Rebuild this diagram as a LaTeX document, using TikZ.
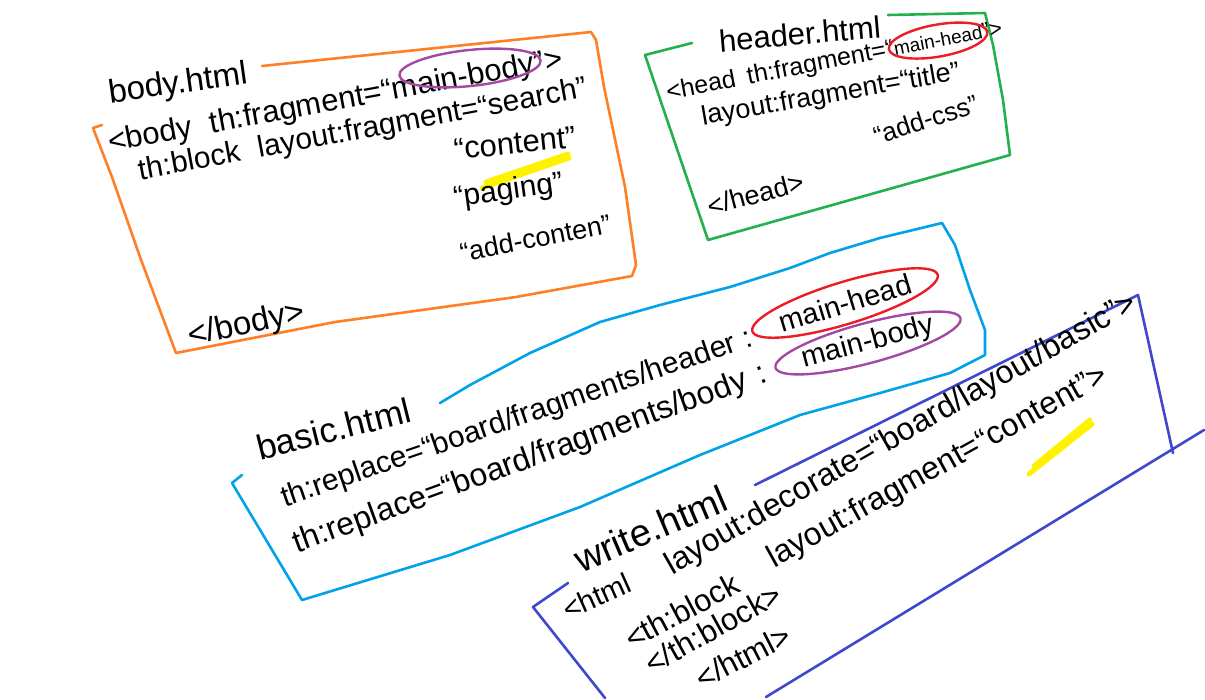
\documentclass[tikz,border=0pt]{standalone}
\usepackage{fontspec}
\setmainfont{Liberation Sans}
\usetikzlibrary{shapes.geometric}
\definecolor{porange}{HTML}{FF7F27}
\definecolor{pgreen}{HTML}{22B14C}
\definecolor{pblue}{HTML}{00A2E8}
\definecolor{pred}{HTML}{ED1C24}
\definecolor{ppurple}{HTML}{A349A4}
\definecolor{pindigo}{HTML}{3F48CC}
\definecolor{pyellow}{HTML}{FFF200}
\begin{document}
\begin{tikzpicture}[x=1pt,y=-1pt,line cap=round,line join=round,
  box/.style={line width=2.6pt},
  lbl/.style={anchor=base west, inner sep=0pt, outer sep=0pt, font=\fontsize{#1}{#1}\selectfont},
  lbl/.default=30,
  ring/.style={ellipse, line width=2.4pt, inner sep=0pt, font=\fontsize{#1}{#1}\selectfont},
  ring/.default=28,
  hl/.style={draw=pyellow, line width=5pt}]
\fill[white] (0,0) rectangle (1205,699);
\useasboundingbox (0,0) rectangle (1205,699);

% ---------- body.html (orange) ----------
\draw[hl] (482,188) -- (569,158);
\draw[hl] (486,182) -- (568,154);
\draw[box, draw=porange] (262,66) -- (591,32) -- (596,40) -- (604,87) -- (625,187) -- (636,265) -- (632,276) -- (516,297) -- (335,322) -- (176,353) -- (140,257) -- (112,177) -- (93,128) -- (102,125);
\node[lbl=33, rotate=8] (bodyt) at (110,103) {body.html};
\node[lbl=31, rotate=10.5] (b1) at (110,152) {<body\hspace{18pt}th:fragment=“main-body”>};
\node[lbl=30, rotate=10.5] (b2) at (140,180) {th:block\hspace{18pt}layout:fragment=“search”};
\node[lbl=31, rotate=6] (b3) at (455,160) {“content”};
\node[lbl=30, rotate=8] (b4) at (455,207) {“paging”};
\node[lbl=27, rotate=11] (b5) at (462,262) {“add-conten”};
\node[lbl=33, rotate=12] (b6) at (190,346) {</body>};
\node[ring, draw=ppurple, rotate=6, minimum width=142pt, minimum height=36pt] (e1) at (470,68) {};

% ---------- header.html (green) ----------
\draw[box, draw=pgreen] (692,43) -- (645,55) -- (708,240) -- (1010,155) -- (1003,100) -- (993,45) -- (985,13) -- (888,15);
\node[lbl=31, rotate=5] (ht) at (720,52) {header.html};
\node[lbl=25, rotate=11] (h1a) at (668,100) {<head\hspace{12pt}th:fragment=“};
\node[lbl=19, rotate=11] (h1b) at (h1a.base east) {main-head};
\node[lbl=22, rotate=11] (h1c) at (h1b.base east) {”>};
\node[lbl=27, rotate=10] (h2) at (703,125) {layout:fragment=“title”};
\node[lbl=26, rotate=18] (h3) at (877,145) {“add-css”};
\node[lbl=27, rotate=15] (h4) at (710,216) {</head>};
\node[ring, draw=pred, rotate=10, minimum width=100pt, minimum height=32pt] (e2) at (h1b.center) {};

% ---------- basic.html (blue) ----------
\draw[box, draw=pblue] (440,403) -- (470,385) -- (530,353) -- (600,322) -- (660,305) -- (730,287) -- (790,268) -- (830,253) -- (880,238) -- (942,223) -- (955,245) -- (970,290) -- (985,330) -- (985,355) -- (950,373) -- (880,393) -- (800,415) -- (700,455) -- (580,507) -- (450,555) -- (302,600) -- (232,483) -- (242,475);
\node[lbl=35, rotate=14] (bt) at (260,460) {basic.html};
\node[lbl=30, rotate=19] (l1) at (285,507) {th:replace=“board/fragments/header :};
\node[lbl=32, rotate=20] (l2) at (297,553) {th:replace=“board/fragments/body\hspace{12pt}:};
\node[ring=29, draw=pred, rotate=17, minimum width=160pt, minimum height=42pt] (e3) at (845,303) {main-head};
\node[ring=29, draw=ppurple, rotate=15, minimum width=152pt, minimum height=40pt] (e4) at (868,343) {main-body};

% ---------- write.html (indigo) ----------
\draw[hl] (1029,474) -- (1092,424);
\draw[hl] (1034,466) -- (1090,420);
\draw[box, draw=pindigo] (755,485) -- (1138,295) -- (1173,453);
\draw[box, draw=pindigo] (1204,430) -- (766,697);
\draw[box, draw=pindigo] (605,698) -- (533,607) -- (568,583);
\node[lbl=38, rotate=23] (wt) at (581,573) {write.html};
\node[lbl=29, rotate=24] (w1) at (568,620) {<html};
\node[lbl=32, rotate=29.7] (w2) at (672,575) {layout:decorate=“board/layout/basic”>};
\node[lbl=31, rotate=28] (w3) at (632,650) {<th:block};
\node[lbl=32, rotate=29] (w4) at (774,568) {layout:fragment=“content”>};
\node[lbl=31, rotate=29] (w5) at (652,675) {</th:block>};
\node[lbl=31, rotate=27] (w6) at (702,690) {</html>};
\end{tikzpicture}
\end{document}
